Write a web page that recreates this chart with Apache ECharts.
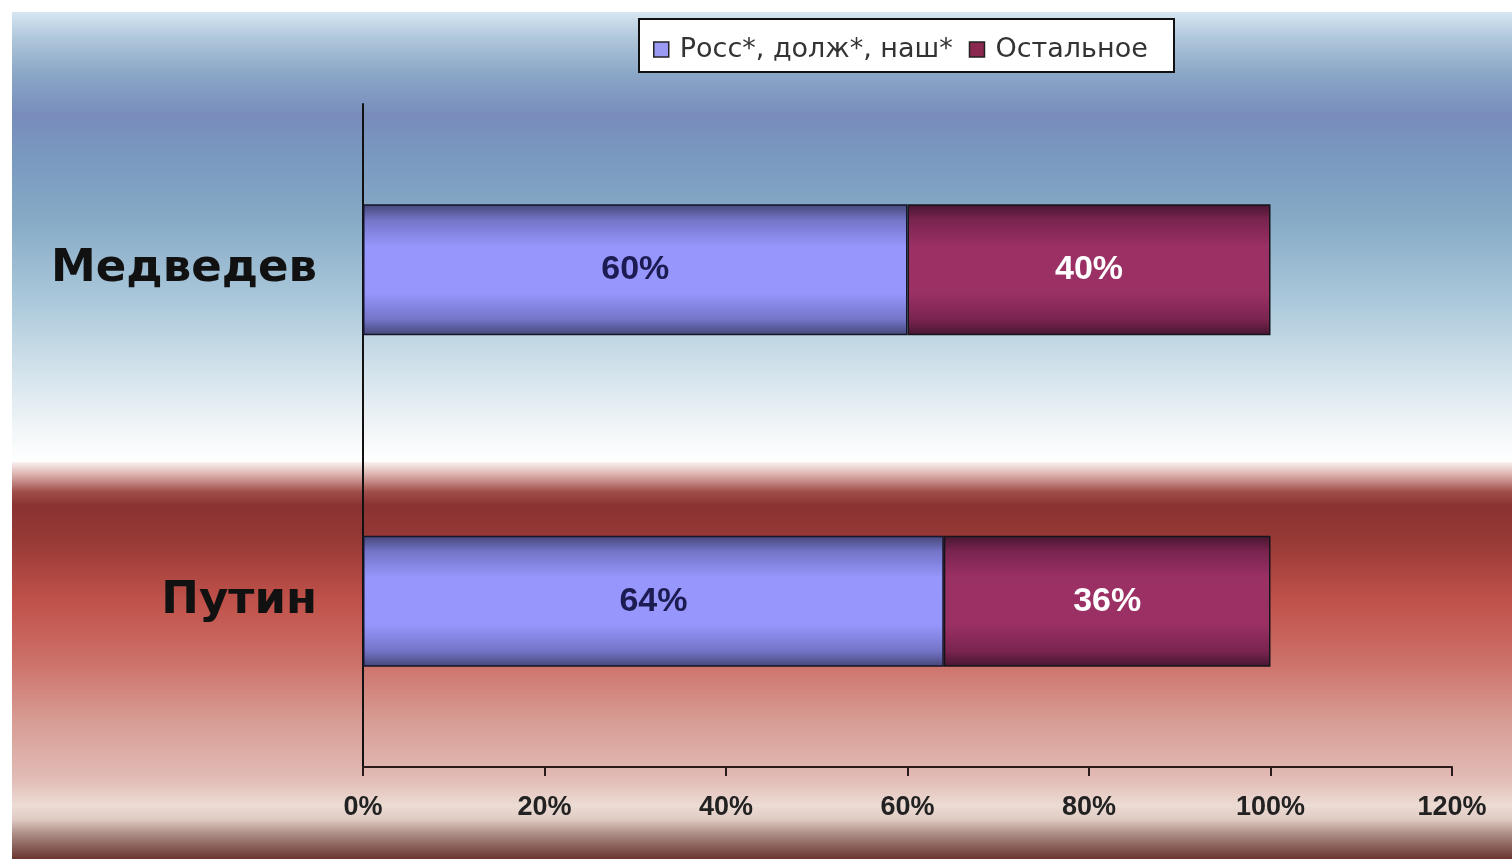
<!DOCTYPE html>
<html>
<head>
<meta charset="utf-8">
<script src="https://cdn.jsdelivr.net/npm/echarts@6/dist/echarts.min.js"></script>
<style>html,body{margin:0;padding:0;background:#fff;}#c{width:1512px;height:859px;}</style>
</head>
<body>
<div id="c"></div>
<script>
const categories = ['Медведев', 'Путин'];
const seriesNames = ['Росс*, долж*, наш*', 'Остальное'];
const russValues = [60, 64];
const otherValues = [40, 36];
const xTicks = [0, 20, 40, 60, 80, 100, 120];

const chart = echarts.init(document.getElementById('c'));
function vgrad(edge, mix, mid) {
  return new echarts.graphic.LinearGradient(0, 0, 0, 1, [
    {offset: 0, color: edge}, {offset: 0.12, color: mix}, {offset: 0.32, color: mid},
    {offset: 0.68, color: mid}, {offset: 0.88, color: mix}, {offset: 1, color: edge}
  ]);
}
const bgBlue = new echarts.graphic.LinearGradient(0, 0, 0, 1, [
  {offset: 0, color: '#d6e6f2'}, {offset: 0.06, color: '#aec6da'}, {offset: 0.14, color: '#8aa6c6'},
  {offset: 0.23, color: '#788cbc'}, {offset: 0.33, color: '#7a9ac0'}, {offset: 0.46, color: '#86aac6'},
  {offset: 0.64, color: '#aac8da'}, {offset: 0.82, color: '#d8e6ee'}, {offset: 0.93, color: '#f2f6f8'},
  {offset: 1, color: '#ffffff'}
]);
const bgRed = new echarts.graphic.LinearGradient(0, 0, 0, 1, [
  {offset: 0, color: '#faf2f0'}, {offset: 0.035, color: '#d8aaa6'}, {offset: 0.075, color: '#a04e4a'},
  {offset: 0.11, color: '#8a3232'}, {offset: 0.2, color: '#983a36'}, {offset: 0.35, color: '#c0524a'},
  {offset: 0.5, color: '#cc7068'}, {offset: 0.65, color: '#d79c94'}, {offset: 0.8, color: '#e2bcb6'},
  {offset: 0.865, color: '#ecdcd4'}, {offset: 0.9, color: '#e0cbc3'}, {offset: 0.94, color: '#a88880'},
  {offset: 1, color: '#6a3430'}
]);
chart.setOption({
  animation: false,
  graphic: [
    {type: 'rect', z: -100, shape: {x: 12, y: 12, width: 1500, height: 450}, style: {fill: bgBlue}},
    {type: 'rect', z: -100, shape: {x: 12, y: 462, width: 1500, height: 397}, style: {fill: bgRed}},
    {type: 'rect', z: 50, shape: {x: 639, y: 19, width: 535, height: 53}, style: {fill: '#ffffff', stroke: '#111', lineWidth: 2}}
  ],
  legend: {
    z: 60,
    left: 648, top: 31,
    itemWidth: 15, itemHeight: 15, itemGap: 16,
    icon: 'rect',
    textStyle: {fontFamily: 'DejaVu Sans', fontSize: 27, color: '#333', padding: [0, 0, 0, 6]},
    data: [
      {name: seriesNames[0], itemStyle: {color: '#9a9af2', borderColor: '#222', borderWidth: 1.5}},
      {name: seriesNames[1], itemStyle: {color: '#8a2850', borderColor: '#222', borderWidth: 1.5}}
    ]
  },
  grid: {left: 363, right: 60, top: 104, bottom: 92, containLabel: false},
  xAxis: {
    type: 'value', min: 0, max: 120, interval: 20,
    axisLine: {show: true, lineStyle: {color: '#2a1a1a', width: 2}},
    axisTick: {show: true, length: 9, lineStyle: {color: '#2a1a1a', width: 2}},
    splitLine: {show: false},
    axisLabel: {
      margin: 27, fontFamily: 'Liberation Sans', fontWeight: 'bold', fontSize: 27, color: '#222',
      formatter: v => xTicks.includes(v) ? v + '%' : ''
    }
  },
  yAxis: {
    type: 'category', data: categories, inverse: true,
    axisLine: {show: true, lineStyle: {color: '#111', width: 2}},
    axisTick: {show: false},
    axisLabel: {margin: 46, fontFamily: 'DejaVu Sans', fontWeight: 'bold', fontSize: 45, color: '#111'}
  },
  series: [
    {
      name: seriesNames[0], type: 'bar', stack: 's', data: russValues, barWidth: 131,
      itemStyle: {color: vgrad('#444676', '#7474c8', '#9696fc'), borderColor: '#14142a', borderWidth: 1.5},
      label: {show: true, position: 'inside', formatter: p => p.value + '%',
        fontFamily: 'Liberation Sans', fontWeight: 'bold', fontSize: 34, color: '#1c1c52'}
    },
    {
      name: seriesNames[1], type: 'bar', stack: 's', data: otherValues, barWidth: 131,
      itemStyle: {color: vgrad('#461630', '#7a2450', '#9a3064'), borderColor: '#14141a', borderWidth: 1.5},
      label: {show: true, position: 'inside', formatter: p => p.value + '%',
        fontFamily: 'Liberation Sans', fontWeight: 'bold', fontSize: 34, color: '#ffffff'}
    }
  ]
});
</script>
</body>
</html>
